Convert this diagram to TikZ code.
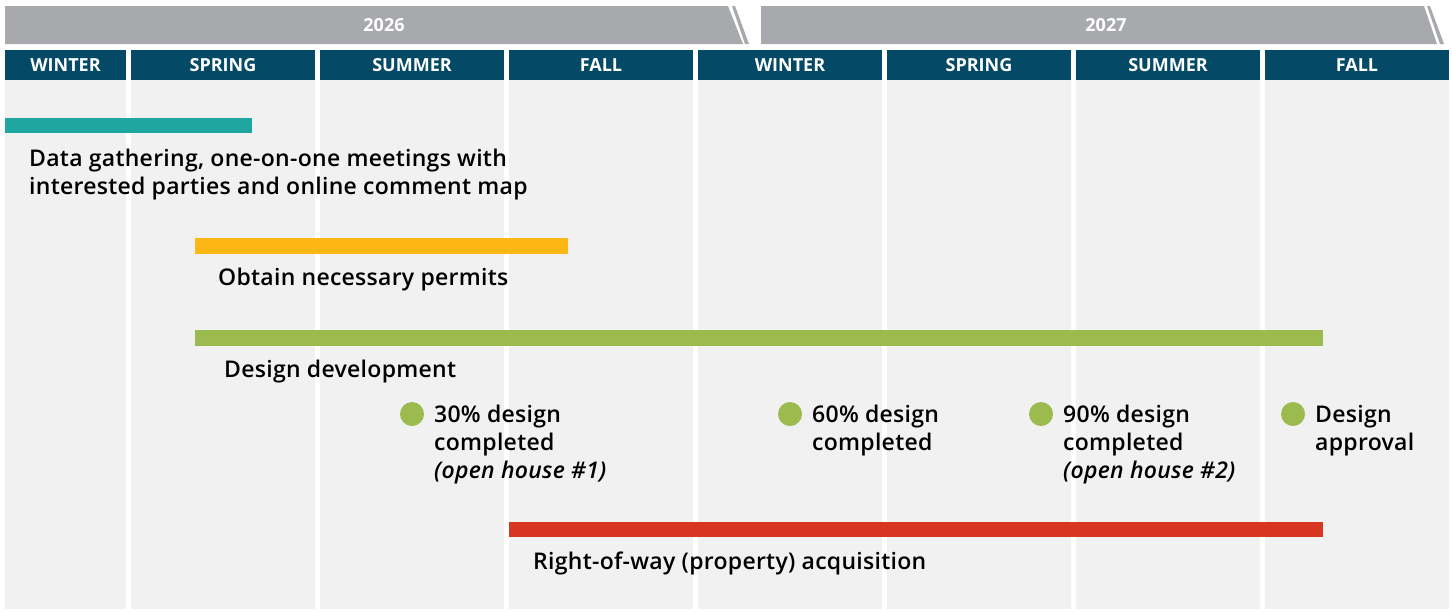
\documentclass[tikz,border=0pt]{standalone}
\usepackage{fontspec}
\IfFontExistsTF{Open Sans SemiBold}{%
  \setmainfont{Open Sans}[UprightFont={* SemiBold},ItalicFont={* SemiBold Italic},BoldFont={* Bold},
    UprightFeatures={LetterSpace=1.2},ItalicFeatures={LetterSpace=1.2}]}{%
  \IfFontExistsTF{Open Sans Semibold}{%
    \setmainfont{Open Sans}[UprightFont={* Semibold},ItalicFont={* Semibold Italic},BoldFont={* Bold},
      UprightFeatures={LetterSpace=1.2},ItalicFeatures={LetterSpace=1.2}]}{%
    \setmainfont{Open Sans}[UprightFeatures={FakeBold=0.7,LetterSpace=4},
      ItalicFeatures={FakeBold=0.7,LetterSpace=4}]}}

\definecolor{bandgray}{RGB}{167,169,172}
\definecolor{headblue}{RGB}{4,74,102}
\definecolor{colgray}{RGB}{241,241,241}
\definecolor{gatherteal}{RGB}{31,166,160}
\definecolor{permityellow}{RGB}{252,183,21}
\definecolor{designgreen}{RGB}{155,187,79}
\definecolor{rowred}{RGB}{217,54,33}

\tikzset{
  yearband/.style={fill=bandgray},
  yearlabel/.style={text=white, font=\bfseries\fontsize{18}{20}\selectfont},
  seasoncell/.style={fill=headblue},
  seasonlabel/.style={text=white, font=\bfseries\fontsize{18}{20}\selectfont},
  column/.style={fill=colgray},
  tasklabel/.style={anchor=base west, inner sep=0pt, align=left,
    font=\fontsize{23}{28}\selectfont},
  milestone/.style={circle, fill=designgreen, minimum size=24pt, inner sep=0pt},
}

\begin{document}
\begin{tikzpicture}[x=1pt, y=-1pt]
    \useasboundingbox (0,0) rectangle (1452,611);

    % Columns and season headers
    \foreach \l/\r/\name in {5/126/WINTER, 131/315/SPRING, 320/504/SUMMER, 509/693/FALL,
        698/882/WINTER, 887/1071/SPRING, 1076/1260/SUMMER, 1265/1449/FALL} {
        \fill[column] (\l,80) rectangle (\r,609);
        \fill[seasoncell] (\l,50) rectangle (\r,80);
        \node[seasonlabel] (season-\l) at ({(\l+\r)/2},65) {\name};
    }

    % Year bands
    \fill[yearband] (5,6) -- (728,6) -- (743,44) -- (5,44) -- cycle;
    \fill[yearband] (732,6) -- (735,6) -- (749,44) -- (745,44) -- cycle;
    \fill[yearband] (761,6) -- (1424,6) -- (1437,44) -- (761,44) -- cycle;
    \fill[yearband] (1427,6) -- (1430,6) -- (1444,44) -- (1440,44) -- cycle;
    \node[yearlabel] (y2026) at (384,25) {2026};
    \node[yearlabel] (y2027) at (1106,25) {2027};

    % Task bars
    \fill[gatherteal] (5,118) rectangle (252,133);
    \fill[permityellow] (195,238) rectangle (568,254);
    \fill[designgreen] (195,330) rectangle (1323,346);
    \fill[rowred] (509,522) rectangle (1323,537);

    % Task labels (base = baseline of the last line)
    \node[tasklabel] (gather) at (29,194) {Data gathering, one-on-one meetings with\\interested parties and online comment map};
    \node[tasklabel] (permits) at (218,285) {Obtain necessary permits};
    \node[tasklabel] (design) at (224,377) {Design development};
    \node[tasklabel] (row) at (533,569) {Right-of-way (property) acquisition};

    % Milestones
    \foreach \x/\txt/\y/\name in {412/{30\% design\\completed\\\textit{(open house \#1)}}/478/m30,
        790/{60\% design\\completed}/450/m60,
        1041/{90\% design\\completed\\\textit{(open house \#2)}}/478/m90,
        1293/{Design\\approval}/450/mfinal} {
        \node[milestone] (\name) at (\x,414) {};
        \node[tasklabel] (\name-text) at ({\x+22},\y) {\txt};
    }
\end{tikzpicture}
\end{document}
